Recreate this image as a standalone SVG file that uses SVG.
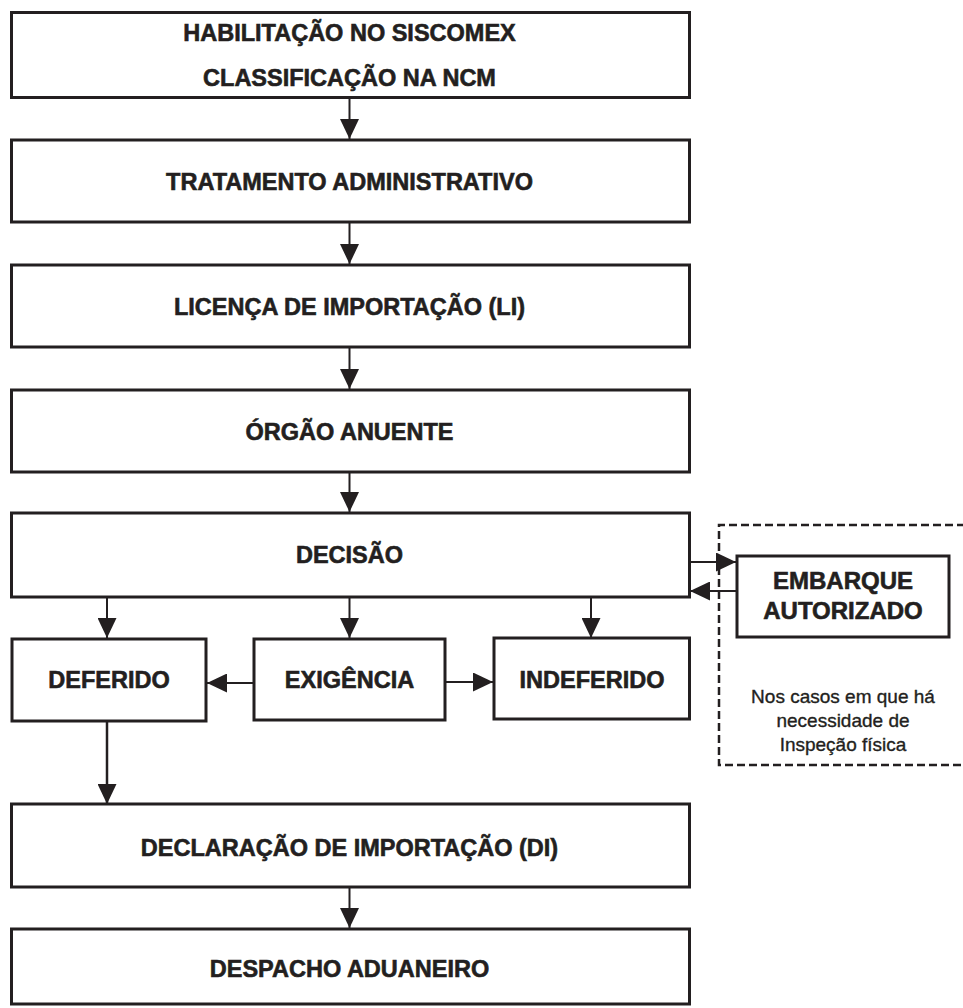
<svg xmlns="http://www.w3.org/2000/svg" width="963" height="1008" viewBox="0 0 963 1008">
<defs>
<style>
.box{fill:#fff;stroke:#231f20;stroke-width:3}
.t{font-family:"Liberation Sans",Arial,sans-serif;font-weight:bold;font-size:23.5px;fill:#231f20;stroke:#231f20;stroke-width:0.6;text-anchor:middle}
.n{font-family:"Liberation Sans",Arial,sans-serif;font-size:19px;fill:#231f20;stroke:#231f20;stroke-width:0.35;text-anchor:middle}
.c{stroke:#231f20;stroke-width:2;fill:none;marker-end:url(#ah)}
.dash{stroke:#231f20;stroke-width:2.5;fill:none;stroke-dasharray:8 4}
</style>
<marker id="ah" markerUnits="userSpaceOnUse" markerWidth="20" markerHeight="19" refX="20" refY="9.5" orient="auto">
<path d="M0,0 L20,9.5 L0,19 z" fill="#231f20"/>
</marker>
</defs>
<rect width="963" height="1008" fill="#fff"/>
<g id="connectors">
<line class="c" x1="349.5" y1="98" x2="349.5" y2="139"/>
<line class="c" x1="349.5" y1="222" x2="349.5" y2="264"/>
<line class="c" x1="349.5" y1="347" x2="349.5" y2="389"/>
<line class="c" x1="349.5" y1="472" x2="349.5" y2="512"/>
<line class="c" x1="107" y1="597" x2="107" y2="638"/>
<line class="c" x1="349.5" y1="597" x2="349.5" y2="638"/>
<line class="c" x1="591" y1="597" x2="591" y2="638"/>
<line class="c" x1="254" y1="683" x2="207" y2="683"/>
<line class="c" x1="445" y1="682" x2="493" y2="682"/>
<line class="c" x1="107" y1="721" x2="107" y2="804" style="stroke-width:2.5"/>
<line class="c" x1="349.5" y1="887" x2="349.5" y2="928"/>
<line class="c" x1="689" y1="562" x2="736" y2="562"/>
<line class="c" x1="737" y1="591" x2="690" y2="591"/>
</g>
<g id="note-frame">
<path class="dash" d="M965,525 H719 V765 H965"/>
<text class="n" x="843" y="703">Nos casos em que há</text>
<text class="n" x="843" y="727">necessidade de</text>
<text class="n" x="843" y="751">Inspeção física</text>
</g>
<g id="habilitacao">
<rect class="box" x="11.5" y="12.5" width="678" height="85"/>
<text class="t" x="349.5" y="40.5">HABILITAÇÃO NO SISCOMEX</text>
<text class="t" x="349.5" y="86">CLASSIFICAÇÃO NA NCM</text>
</g>
<g id="tratamento">
<rect class="box" x="11.5" y="140" width="678" height="82"/>
<text class="t" x="349.5" y="190">TRATAMENTO ADMINISTRATIVO</text>
</g>
<g id="licenca">
<rect class="box" x="11.5" y="265" width="678" height="82"/>
<text class="t" x="349.5" y="315">LICENÇA DE IMPORTAÇÃO (LI)</text>
</g>
<g id="orgao">
<rect class="box" x="11.5" y="390" width="678" height="82"/>
<text class="t" x="349.5" y="440">ÓRGÃO ANUENTE</text>
</g>
<g id="decisao">
<rect class="box" x="11.5" y="513" width="678" height="84"/>
<text class="t" x="349.5" y="563">DECISÃO</text>
</g>
<g id="deferido">
<rect class="box" x="12" y="639" width="194" height="82"/>
<text class="t" x="109" y="688">DEFERIDO</text>
</g>
<g id="exigencia">
<rect class="box" x="254" y="639" width="191" height="81"/>
<text class="t" x="349.5" y="688">EXIGÊNCIA</text>
</g>
<g id="indeferido">
<rect class="box" x="494" y="638" width="195.5" height="81"/>
<text class="t" x="592" y="688">INDEFERIDO</text>
</g>
<g id="embarque">
<rect class="box" x="737" y="556" width="212" height="81"/>
<text class="t" x="843" y="589" style="font-size:24px">EMBARQUE</text>
<text class="t" x="843" y="619" style="font-size:24px">AUTORIZADO</text>
</g>
<g id="declaracao">
<rect class="box" x="11.5" y="804" width="678" height="83"/>
<text class="t" x="349.5" y="856">DECLARAÇÃO DE IMPORTAÇÃO (DI)</text>
</g>
<g id="despacho">
<rect class="box" x="11.5" y="929" width="678" height="75"/>
<text class="t" x="349.5" y="977">DESPACHO ADUANEIRO</text>
</g>
</svg>
